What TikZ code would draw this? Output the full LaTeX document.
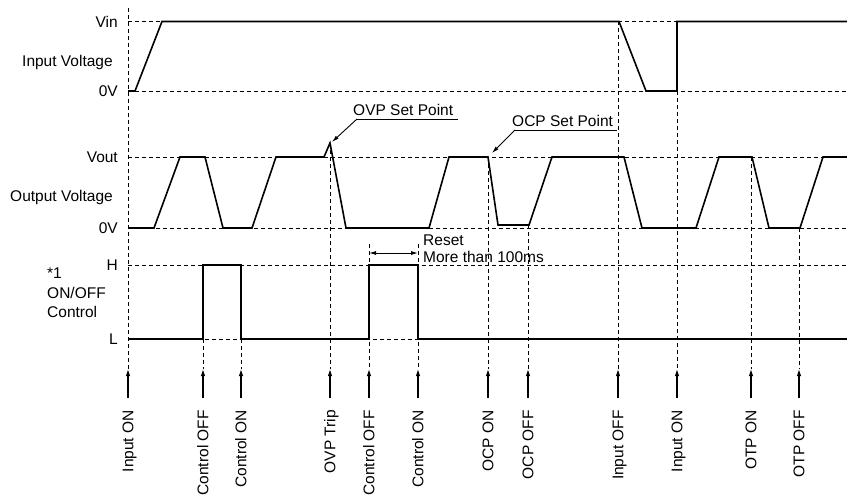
\documentclass[tikz,border=0pt]{standalone}
\usepackage{fontspec}
\setmainfont{Liberation Sans}
\usetikzlibrary{arrows.meta}
\begin{document}
\begin{tikzpicture}[x=1pt,y=-1pt,
  sig/.style={line width=1.6pt, line join=miter},
  guide/.style={line width=0.8pt, dash pattern=on 4pt off 3pt},
  evarrow/.style={line width=1.1pt, -{Latex[length=7pt,width=4.5pt]}},
  leader/.style={line width=0.9pt, -{Latex[length=7pt,width=4pt]}},
  dimarrow/.style={line width=0.9pt, {Latex[length=7pt,width=4pt]}-{Latex[length=7pt,width=4pt]}},
  txt/.style={font=\fontsize{15.5}{18}\selectfont, inner sep=0pt},
]
\useasboundingbox (0,0) rectangle (847,495);

% horizontal guides
\foreach \yy in {21.5,91,157,228,265,339}{
  \draw[guide] (128,\yy) -- (847,\yy);
}
% level labels
\node[txt,anchor=east] (vin) at (118,21.5) {Vin};
\node[txt,anchor=east] (zin) at (118,91) {0V};
\node[txt,anchor=east] (vout) at (118,157) {Vout};
\node[txt,anchor=east] (zout) at (118,228) {0V};
\node[txt,anchor=east] (hi) at (118,265) {H};
\node[txt,anchor=east] (lo) at (118,339) {L};
\node[txt,anchor=base west] (ivlab) at (22,67) {Input Voltage};
\node[txt,anchor=base west] (ovlab) at (10,201) {Output Voltage};
\node[txt,anchor=base west] (ctl1) at (47,278) {*1};
\node[txt,anchor=base west] (ctl2) at (47,298) {ON/OFF};
\node[txt,anchor=base west] (ctl3) at (47,317) {Control};

% vertical guides
\draw[guide] (128,8) -- (128,369);
\draw[guide] (203,339) -- (203,369);
\draw[guide] (241,339) -- (241,369);
\draw[guide] (330,143) -- (330,369);
\draw[guide] (369,244) -- (369,369);
\draw[guide] (418,244) -- (418,369);
\draw[guide] (488,157) -- (488,369);
\draw[guide] (528,225) -- (528,369);
\draw[guide] (618,21.5) -- (618,369);
\draw[guide] (677,91) -- (677,369);
\draw[guide] (751,157) -- (751,369);
\draw[guide] (799,228) -- (799,369);

% waveforms
\draw[sig] (128,91) -- (135,91) -- (162,21.5) -- (619,21.5) -- (646,91) -- (677,91) -- (677,21.5) -- (847,21.5);
\draw[sig] (128,228) -- (154,228) -- (180,157) -- (205,157) -- (223,228) -- (252,228) -- (276,157) -- (324,157) -- (330,143) -- (346,228) -- (429,228) -- (449,157) -- (488,157) -- (498,225) -- (529,225) -- (552,157) -- (624,157) -- (642,228) -- (696,228) -- (719,157) -- (752,157) -- (769,228) -- (800,228) -- (823,157) -- (847,157);
\draw[sig] (128,339) -- (203,339) -- (203,265) -- (241,265) -- (241,339) -- (369,339) -- (369,265) -- (418,265) -- (418,339) -- (847,339);

% OVP set point
\node[txt,anchor=base west] (ovp) at (353,115) {OVP Set Point};
\coordinate (ovpl) at (357,119);
\coordinate (ovpr) at (458,119);
\coordinate (ovpt) at (332,142);
\draw[line width=0.9pt] (ovpl) -- (ovpr);
\draw[leader] (ovpl) -- (ovpt);

% OCP set point
\node[txt,anchor=base west] (ocp) at (512,126) {OCP Set Point};
\coordinate (ocpl) at (515,130);
\coordinate (ocpr) at (617,130);
\coordinate (ocpt) at (492,153);
\draw[line width=0.9pt] (ocpl) -- (ocpr);
\draw[leader] (ocpl) -- (ocpt);

% reset
\coordinate (rsa) at (369,253);
\coordinate (rsb) at (418,253);
\draw[dimarrow] (rsa) -- (rsb);
\node[txt,anchor=base west] (rst1) at (423,245) {Reset};
\node[txt,anchor=base west] (rst2) at (423,262) {More than 100ms};

% event arrows and labels
\foreach \xx/\nm/\lab in {128/a/Input ON, 203/b/Control OFF, 241/c/Control ON, 330/d/OVP Trip, 369/e/Control OFF, 418/f/Control ON, 488/g/OCP ON, 528/h/OCP OFF, 618/i/Input OFF, 677/j/Input ON, 751/k/OTP ON, 799/l/OTP OFF}{
  \coordinate (base\nm) at (\xx,398);
  \coordinate (tip\nm) at (\xx,369);
  \draw[evarrow] (base\nm) -- (tip\nm);
  \node[txt,rotate=90,anchor=base east] (ev\nm) at (\xx+5.4,410) {\lab};
}
\end{tikzpicture}
\end{document}
